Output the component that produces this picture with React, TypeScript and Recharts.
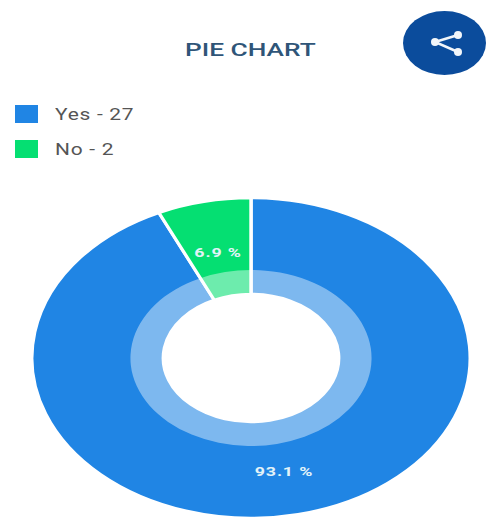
import React from "react";
import { PieChart, Pie, Cell } from "recharts";

const categories = ["Yes", "No"];
const counts = [27, 2];
const percentLabels = ["93.1 %", "6.9 %"];
const sliceColors = ["#2085E4", "#05DF72"];

const slices = categories.map((name, i) => ({ name, value: counts[i], label: percentLabels[i] }));

const PIE_SIZE = 324;
const STRETCH_X = 1.37;
const RADIAN = Math.PI / 180;

// Percent labels sit mid-band; they live inside the wrapper that gets scaled.
const renderPercent = (props: any) => {
  const { cx, cy, midAngle, innerRadius, outerRadius, index } = props;
  const r = (innerRadius + outerRadius) / 2;
  const x = cx + r * Math.cos(-midAngle * RADIAN);
  const y = cy + r * Math.sin(-midAngle * RADIAN) + 4;
  return (
    <text x={x} y={y} fill="#E3F3F8" textAnchor="middle" dominantBaseline="central" fontFamily="Roboto, sans-serif" fontWeight={700} fontSize={13} letterSpacing={0.6}>
      {slices[index].label}
    </text>
  );
};

const stretched = (scale: number): React.CSSProperties => ({
  transform: `scaleX(${scale})`,
  transformOrigin: "left center",
  whiteSpace: "nowrap",
});

export default function App() {
  return (
    <div style={{ position: "fixed", left: 0, top: 0, width: 487, height: 518, overflow: "hidden", background: "#fff", fontFamily: "Roboto, sans-serif" }}>
      <div style={{ position: "absolute", left: 185, top: 39, fontSize: 18, fontWeight: 500, color: "#2F5578", ...stretched(1.46) }}>PIE CHART</div>
      <div style={{ position: "absolute", left: 403, top: 11, width: 83, height: 64, borderRadius: "50%", background: "#0B4C9C" }}>
        <svg width={83} height={64} viewBox="0 0 83 64">
          <path d="M55 24 L32 31 L55 41" fill="none" stroke="#F2F6FA" strokeWidth={2.5} />
          <circle cx={55} cy={24} r={4} fill="#F2F6FA" />
          <circle cx={32} cy={31} r={4} fill="#F2F6FA" />
          <circle cx={55} cy={41} r={4} fill="#F2F6FA" />
        </svg>
      </div>
      {categories.map((name, i) => (
        <div key={name} style={{ position: "absolute", left: 15, top: 105 + i * 35, display: "flex", alignItems: "center", height: 18 }}>
          <div style={{ width: 23, height: 18, background: sliceColors[i] }} />
          <span style={{ marginLeft: 17, fontSize: 17, letterSpacing: 0.6, color: "#555", ...stretched(1.23) }}>{name} - {counts[i]}</span>
        </div>
      ))}
      <div style={{ position: "absolute", left: 251 - PIE_SIZE / 2, top: 358 - PIE_SIZE / 2, width: PIE_SIZE, height: PIE_SIZE, transform: `scaleX(${STRETCH_X})` }}>
        <PieChart width={PIE_SIZE} height={PIE_SIZE} margin={{ top: 0, right: 0, bottom: 0, left: 0 }}>
          <Pie data={slices} dataKey="value" cx="50%" cy="50%" innerRadius={64} outerRadius={160} startAngle={90} endAngle={-270} stroke="#fff" strokeWidth={2.5} isAnimationActive={false} label={renderPercent} labelLine={false}>
            {slices.map((s, i) => <Cell key={s.name} fill={sliceColors[i]} />)}
          </Pie>
          {/* Translucent white band over the inner edge of the donut */}
          <Pie data={slices} dataKey="value" cx="50%" cy="50%" innerRadius={64} outerRadius={88} startAngle={90} endAngle={-270} fill="#fff" fillOpacity={0.42} stroke="none" isAnimationActive={false} legendType="none" />
        </PieChart>
      </div>
    </div>
  );
}
